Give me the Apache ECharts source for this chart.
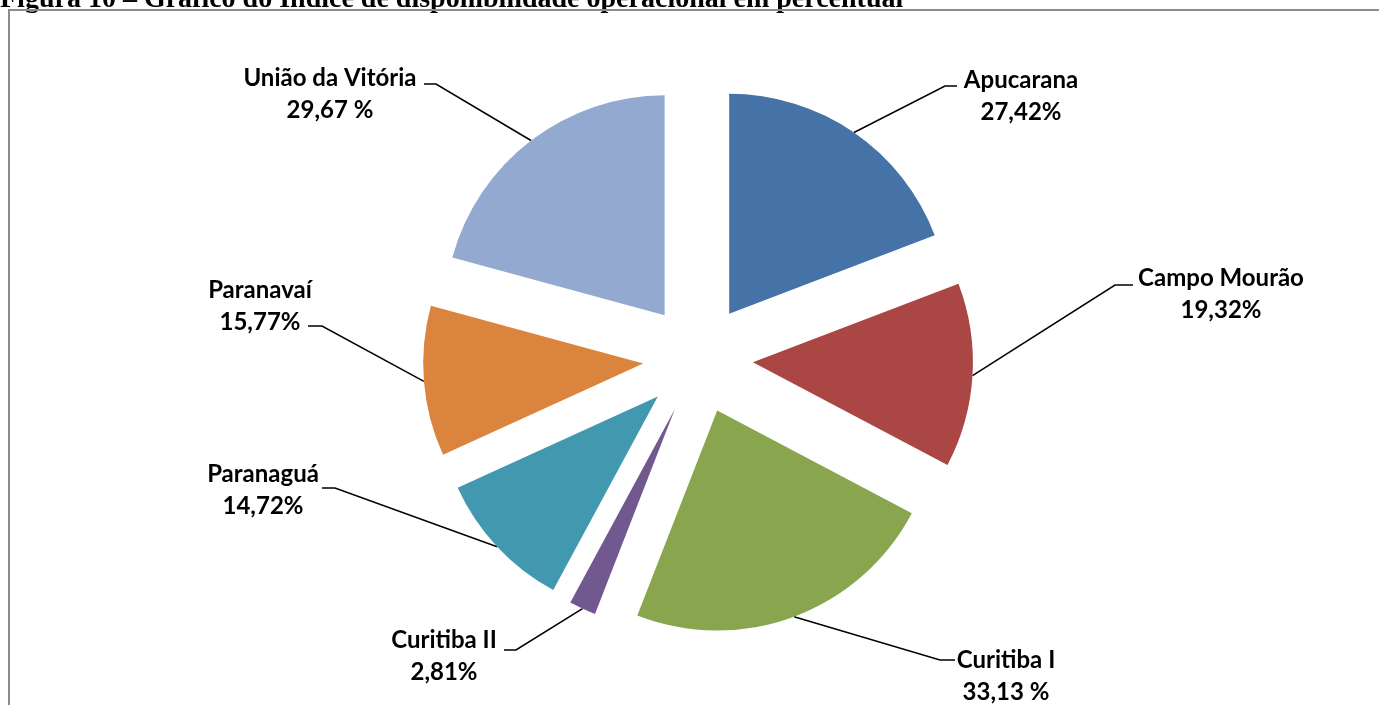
<!DOCTYPE html>
<html>
<head>
<meta charset="utf-8">
<script src="https://cdn.jsdelivr.net/npm/echarts@6/dist/echarts.min.js"></script>
<style>
  html, body { margin: 0; padding: 0; background: #fff; }
  #chart { width: 1379px; height: 705px; }
</style>
</head>
<body>
<div id="chart"></div>
<script>
// dados do gráfico
const regionais = ['Apucarana', 'Campo Mourão', 'Curitiba I', 'Curitiba II', 'Paranaguá', 'Paranavaí', 'União da Vitória']
const indices = [27.42, 19.32, 33.13, 2.81, 14.72, 15.77, 29.67]
const textoIndices = ['27,42%', '19,32%', '33,13 %', '2,81%', '14,72%', '15,77%', '29,67 %']
const cores = ['#4572A7', '#AA4643', '#89A54E', '#71588F', '#4198AF', '#DB843D', '#93A9CF']

const centro = [698, 359]
const raio = 220
const destaque = 55

// posição dos rótulos: [x texto, y texto, x cotovelo, y linha, x fim]
const rotulos = [
  [1021, 96, 945, 86, 957],
  [1221, 294, 1115, 285, 1133],
  [1006, 676, 940, 660, 955],
  [444, 656, 516, 650, 504],
  [263, 490, 335, 488, 322],
  [260, 306, 322, 326, 308],
  [330, 94, 436, 84, 424]
]

const chart = echarts.init(document.getElementById('chart'))

chart.setOption({
  animation: false,
  color: cores,
  graphic: [
    {
      type: 'text',
      left: 0,
      top: -14,
      style: {
        text: 'Figura 10 – Gráfico do Índice de disponibilidade operacional em percentual',
        font: 'bold 28px "Liberation Serif"',
        fill: '#000'
      }
    },
    {
      type: 'rect',
      shape: { x: 9, y: 10, width: 1420, height: 760 },
      style: { fill: 'none', stroke: '#8c8c8c', lineWidth: 2 }
    }
  ],
  series: [
    {
      // fatias destacadas
      type: 'pie',
      center: centro,
      radius: [0, raio],
      startAngle: 90,
      clockwise: true,
      selectedMode: 'multiple',
      selectedOffset: destaque,
      emphasis: { disabled: true },
      itemStyle: { borderWidth: 0 },
      label: { show: false },
      labelLine: { show: false },
      z: 2,
      data: regionais.map((n, i) => ({ name: n, value: indices[i], selected: true }))
    },
    {
      // só os rótulos e linhas de chamada
      type: 'pie',
      center: centro,
      radius: [0, raio],
      startAngle: 90,
      clockwise: true,
      silent: true,
      selectedMode: false,
      avoidLabelOverlap: false,
      itemStyle: { color: 'rgba(0,0,0,0)', borderWidth: 0 },
      z: 1,
      label: {
        show: true,
        position: 'outside',
        formatter: p => p.name + '\n' + textoIndices[p.dataIndex],
        fontFamily: 'Lato',
        fontWeight: 'bold',
        fontSize: 24,
        lineHeight: 32,
        color: '#000'
      },
      labelLine: {
        show: true,
        lineStyle: { color: '#000', width: 1.5 }
      },
      labelLayout: function (params) {
        const r = rotulos[params.dataIndex]
        const p0 = params.labelLinePoints[0]
        const vx = p0[0] - centro[0]
        const vy = p0[1] - centro[1]
        const d = Math.sqrt(vx * vx + vy * vy)
        const ini = [p0[0] + vx / d * destaque, p0[1] + vy / d * destaque]
        return {
          x: r[0],
          y: r[1],
          align: 'center',
          verticalAlign: 'middle',
          labelLinePoints: [ini, [r[2], r[3]], [r[4], r[3]]]
        }
      },
      data: regionais.map((n, i) => ({ name: n, value: indices[i] }))
    }
  ]
})
</script>
</body>
</html>
